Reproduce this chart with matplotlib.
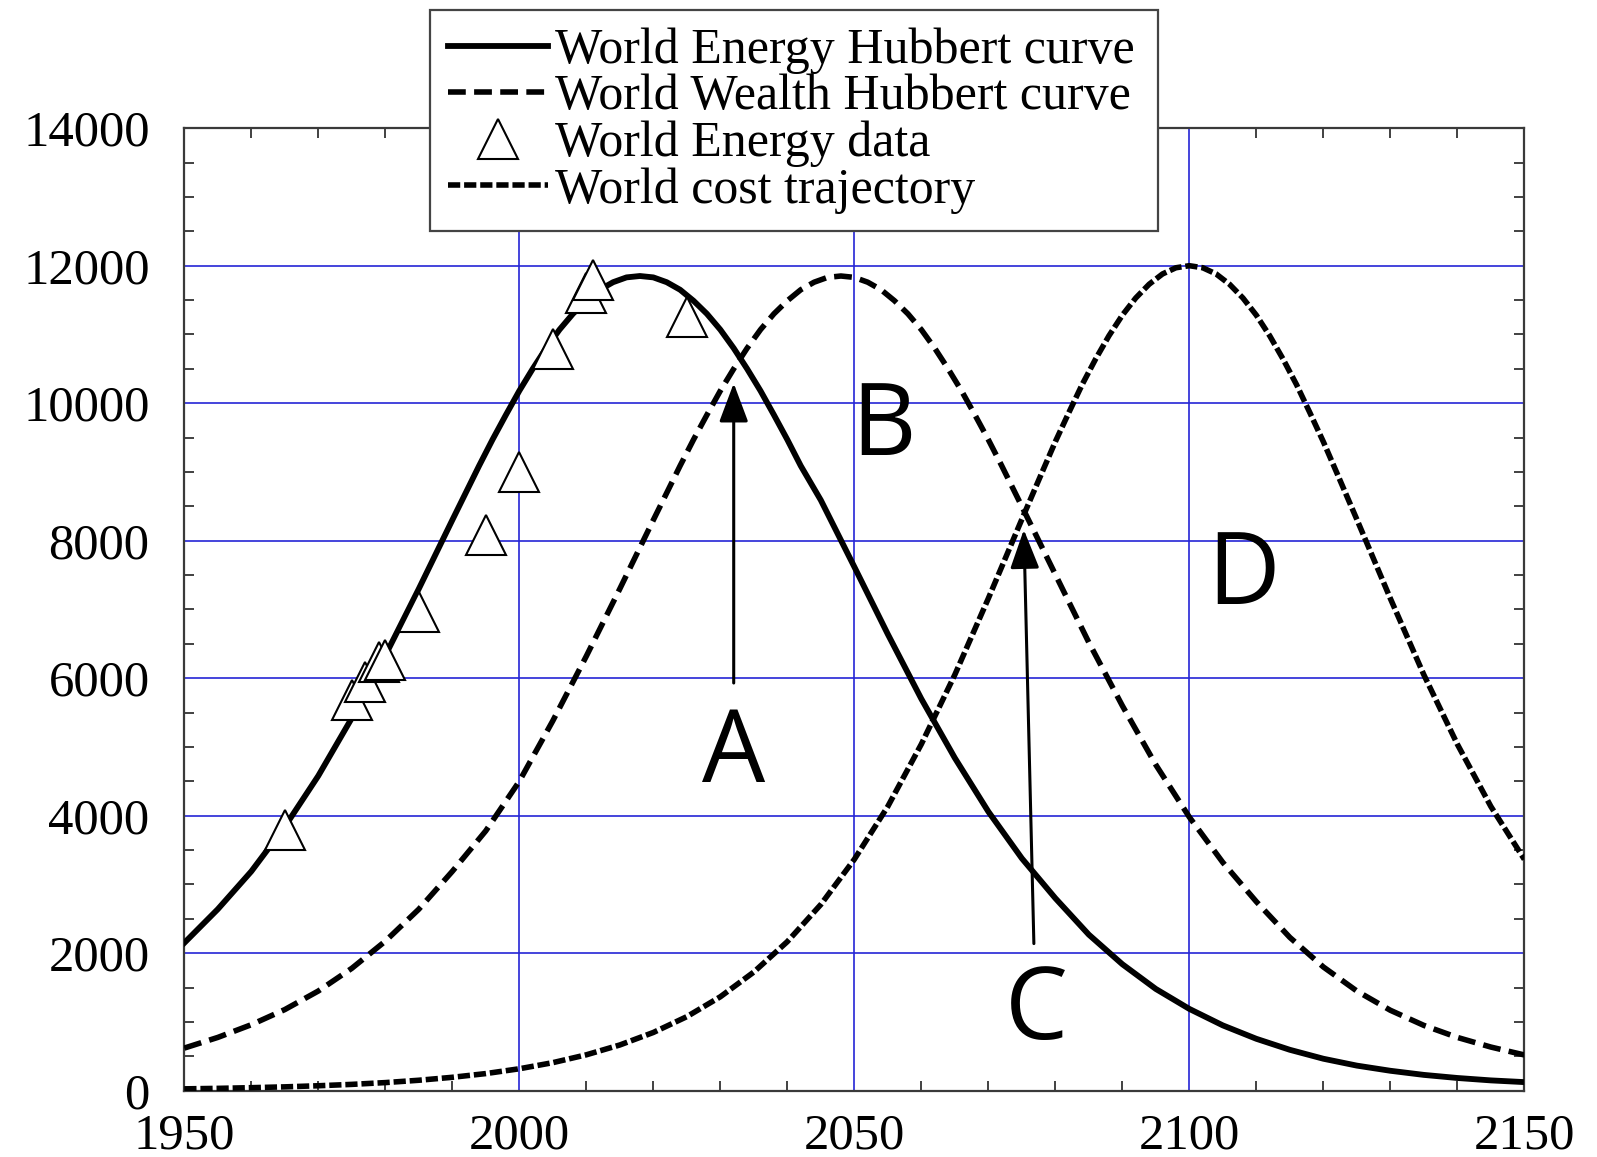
import matplotlib.pyplot as plt
from matplotlib.ticker import MultipleLocator

plt.rcParams['font.family'] = ['Liberation Serif', 'DejaVu Serif']

# World Energy Hubbert curve
energy_years = [1950, 1955, 1960, 1965, 1970, 1975, 1980, 1985, 1990, 1994, 1996,
                1998, 2000, 2002, 2004, 2006, 2008, 2010, 2012, 2014, 2016, 2018,
                2020, 2022, 2024, 2026, 2028, 2030, 2032, 2034, 2036, 2038, 2040,
                2042, 2045, 2050, 2055, 2060, 2065, 2070, 2075, 2080, 2085, 2090,
                2095, 2100, 2105, 2110, 2115, 2120, 2125, 2130, 2135, 2140, 2145, 2150]
energy = [2150, 2640, 3190, 3840, 4580, 5420, 6330, 7300, 8300, 9090, 9470,
          9830, 10180, 10500, 10800, 11070, 11300, 11490, 11650, 11760, 11830, 11850,
          11830, 11760, 11650, 11490, 11300, 11070, 10800, 10500, 10180, 9830, 9470,
          9090, 8590, 7620, 6640, 5700, 4840, 4060, 3380, 2800, 2270, 1840,
          1480, 1190, 950, 755, 595, 465, 365, 290, 230, 185, 150, 125]

# World Wealth Hubbert curve
wealth_years = [1950, 1955, 1960, 1965, 1970, 1975, 1980, 1985, 1990, 1995, 2000,
                2005, 2010, 2015, 2020, 2024, 2026,
                2028, 2030, 2032, 2034, 2036, 2038, 2040, 2042, 2044, 2046, 2048,
                2050, 2052, 2054, 2056, 2058, 2060, 2062, 2064, 2066, 2068,
                2070, 2072, 2075, 2080, 2085, 2090, 2095, 2100, 2105, 2110, 2115,
                2120, 2125, 2130, 2135, 2140, 2145, 2150]
wealth = [620, 775, 960, 1180, 1450, 1780, 2175, 2640, 3190, 3780, 4500,
          5380, 6320, 7300, 8300, 9090, 9470,
          9830, 10180, 10500, 10800, 11070, 11300, 11490, 11650, 11760, 11830, 11850,
          11830, 11760, 11650, 11490, 11300, 11070, 10800, 10500, 10180, 9830,
          9470, 9090, 8500, 7510, 6520, 5600, 4740, 3980, 3320, 2750, 2230,
          1800, 1450, 1170, 950, 775, 635, 520]

# World cost trajectory
cost_years = [1950, 1955, 1960, 1965, 1970, 1975, 1980, 1985, 1990, 1995, 2000,
              2005, 2010, 2015, 2020, 2025, 2030, 2035, 2040, 2045, 2050, 2055,
              2060, 2065, 2070, 2075, 2078,
              2080, 2082, 2084, 2086, 2088, 2090, 2092, 2094, 2096, 2098, 2100,
              2102, 2104, 2106, 2108, 2110, 2112, 2114, 2116, 2118, 2120,
              2122, 2125, 2130, 2135, 2140, 2145, 2150]
cost = [27, 34, 44, 56, 72, 92, 118, 152, 195, 249, 319,
        408, 522, 665, 847, 1077, 1366, 1726, 2168, 2708, 3365, 4135,
        5040, 6050, 7160, 8310, 8990,
        9440, 9860, 10270, 10640, 10980, 11280, 11530, 11730, 11880, 11970, 12000,
        11970, 11880, 11730, 11530, 11280, 10980, 10640, 10270, 9860, 9440,
        8990, 8310, 7160, 6050, 5040, 4135, 3365]

# World Energy data points
data_years = [1965, 1975, 1977, 1979, 1980, 1985, 1995, 2000, 2005, 2010, 2011, 2025]
data_vals = [3790, 5680, 5950, 6230, 6265, 6970, 8080, 9000, 10790, 11600, 11790, 11260]

labels = ['World Energy Hubbert curve', 'World Wealth Hubbert curve',
          'World Energy data', 'World cost trajectory']

# letter annotations: (label, year, value at baseline)
letters = [('A', 2032.0, 4495), ('B', 2054.3, 9246), ('C', 2077.2, 752), ('D', 2108.1, 7073)]
# arrows: (year from, value from, year to, value to)
arrows = [(2032.0, 5930, 2032.0, 10290), (2076.8, 2140, 2075.3, 8160)]

fig = plt.figure(figsize=(15.97, 11.57), dpi=100)
ax = fig.add_axes([0.1154, 0.0573, 0.8391, 0.8319])

ax.plot(energy_years, energy, color='black', lw=4.2, label=labels[0], zorder=3)
ax.plot(wealth_years, wealth, color='black', lw=4, dashes=(3.2, 1.5),
        dash_capstyle='butt', label=labels[1], zorder=3)
ax.plot(data_years, data_vals, ls='none', marker='^', ms=29, mfc='white',
        mec='black', mew=1.5, label=labels[2], zorder=4)
ax.plot(cost_years, cost, color='black', lw=4, dashes=(2.2, 0.7),
        dash_capstyle='butt', label=labels[3], zorder=3)

for x0, y0, x1, y1 in arrows:
    ax.annotate('', xy=(x1, y1), xytext=(x0, y0),
                arrowprops=dict(arrowstyle='-|>,head_length=24,head_width=9',
                                mutation_scale=1, lw=2.2, color='black',
                                shrinkA=0, shrinkB=0), zorder=5)

for s, x, y in letters:
    ax.text(x, y, s, fontsize=72, family='Open Sans', ha='center', va='baseline', zorder=5)

ax.set_xlim(1950, 2150)
ax.set_ylim(0, 14000)
ax.set_xticks(range(1950, 2151, 50))
ax.set_yticks(range(0, 14001, 2000))
ax.xaxis.set_minor_locator(MultipleLocator(10))
ax.yaxis.set_minor_locator(MultipleLocator(500))
ax.tick_params(which='major', length=0, labelsize=36.5)
ax.tick_params(axis='y', pad=25)
ax.tick_params(axis='x', pad=16)
ax.tick_params(which='minor', direction='in', length=7, width=1.3,
               top=True, right=True, color='#333333')
ax.grid(True, which='major', color='#2525d5', lw=1.2)
for sp in ax.spines.values():
    sp.set_color('#3a3a3a')
    sp.set_linewidth(1.6)

leg = ax.legend(loc='upper left',
                bbox_to_anchor=(430 / 1597, 1 - 227 / 1157, 728 / 1597, 217 / 1157),
                bbox_transform=fig.transFigure, mode='expand', borderaxespad=0,
                fancybox=False, edgecolor='#444444', framealpha=1, fontsize=36,
                handlelength=2.0, handletextpad=0.15, labelspacing=0.0,
                borderpad=0.35, numpoints=1)
leg.get_frame().set_linewidth(1.6)
leg.set_zorder(10)

fig.savefig('out.png', dpi=100)
